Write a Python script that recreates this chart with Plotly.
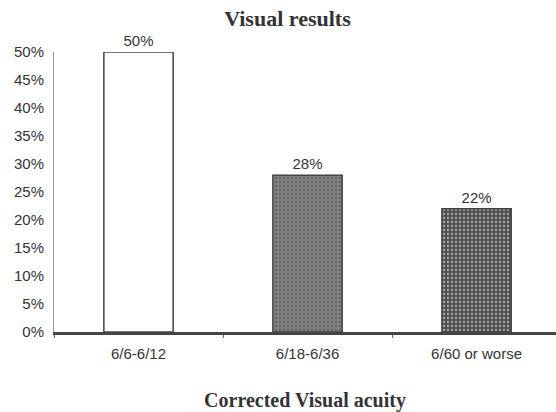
import plotly.graph_objects as go

# Distribution of corrected visual acuity outcomes
categories = ["6/6-6/12", "6/18-6/36", "6/60 or worse"]
percentages = [50, 28, 22]
y_ticks = [0, 5, 10, 15, 20, 25, 30, 35, 40, 45, 50]

bar_colors = ["#ffffff", "#808080", "#505050"]

fig = go.Figure()
fig.add_trace(go.Bar(
    x=categories,
    y=percentages,
    width=0.41,
    marker=dict(
        color=bar_colors,
        line=dict(color="#444444", width=1.5),
        pattern=dict(shape=["", ".", "."], fgcolor="#b8b8b8", size=4, solidity=0.25),
    ),
    text=[f"{v}%" for v in percentages],
    textposition="outside",
    textfont=dict(family="Liberation Sans, Arial", size=15, color="#333333"),
    cliponaxis=False,
    showlegend=False,
))

fig.update_layout(
    width=556,
    height=412,
    margin=dict(l=54, r=0, t=52, b=80),
    paper_bgcolor="white",
    plot_bgcolor="white",
    title=dict(
        text="<b>Visual results</b>",
        x=0.517, xanchor="center", y=0.955, yanchor="middle",
        font=dict(family="Liberation Serif, Times New Roman", size=22, color="#333333"),
    ),
    xaxis=dict(
        range=[-0.5, 2.47],
        showline=True, linecolor="#444444", linewidth=2.5,
        ticks="outside", ticklen=3, tickcolor="#666666", tickson="boundaries",
        tickfont=dict(family="Liberation Sans, Arial", size=15, color="#333333"),
        ticklabelstandoff=6,
        title=dict(
            text="<b>Corrected Visual acuity</b>",
            font=dict(family="Liberation Serif, Times New Roman", size=20, color="#333333"),
            standoff=34,
        ),
        showgrid=False,
    ),
    yaxis=dict(
        range=[0, 50],
        tickvals=y_ticks,
        ticktext=[f"{v}%" for v in y_ticks],
        showline=True, linecolor="#999999", linewidth=1,
        ticks="", ticklabelstandoff=6,
        tickfont=dict(family="Liberation Sans, Arial", size=15, color="#333333"),
        showgrid=False, zeroline=False,
    ),
    bargap=0.59,
)

fig.write_html("out.html")
